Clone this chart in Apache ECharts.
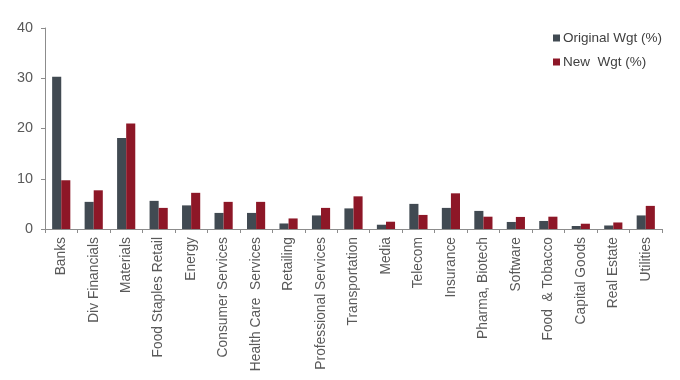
<!DOCTYPE html>
<html>
<head>
<meta charset="utf-8">
<script src="https://cdn.jsdelivr.net/npm/echarts@6/dist/echarts.min.js"></script>
<style>html,body{margin:0;padding:0;background:#fff;}#c{width:680px;height:380px;}</style>
</head>
<body>
<div id="c"></div>
<script>
const categories = ["Banks","Div Financials","Materials","Food Staples Retail","Energy","Consumer Services","Health Care  Services","Retailing","Professional Services","Transportation","Media","Telecom","Insurance","Pharma, Biotech","Software","Food  & Tobacco","Capital Goods","Real Estate","Utilities"];
const originalWgt = [30.3,5.4,18.1,5.6,4.7,3.2,3.2,1.1,2.7,4.1,0.85,5.0,4.2,3.6,1.4,1.6,0.6,0.7,2.7];
const newWgt = [9.7,7.7,21.0,4.2,7.2,5.4,5.4,2.1,4.2,6.5,1.45,2.8,7.1,2.45,2.4,2.45,1.05,1.3,4.6];
const yTicks = {min:0,max:40,interval:10};

const chart = echarts.init(document.getElementById('c'));
const font = 'Liberation Sans, Arial, sans-serif';
chart.setOption({
  animation:false,
  grid:{left:45,right:18,top:28,bottom:151},
  legend:{
    orient:'vertical', left:548, top:26, itemWidth:7, itemHeight:7, itemGap:10,
    icon:'rect',
    textStyle:{fontFamily:font,fontSize:13.5,color:'#404040',padding:[0,0,0,-2]},
    data:['Original Wgt (%)','New  Wgt (%)']
  },
  xAxis:{
    type:'category', data:categories,
    axisLine:{lineStyle:{color:'#8c8c8c'}},
    axisTick:{show:true,length:4,alignWithLabel:false,lineStyle:{color:'#8c8c8c'}},
    axisLabel:{rotate:90,interval:0,margin:8,fontFamily:font,fontSize:13.8,color:'#595959'}
  },
  yAxis:{
    type:'value', min:yTicks.min, max:yTicks.max, interval:yTicks.interval,
    splitLine:{show:false},
    axisLine:{show:true,lineStyle:{color:'#8c8c8c'}},
    axisTick:{show:true,length:4,lineStyle:{color:'#8c8c8c'}},
    axisLabel:{margin:12,fontFamily:font,fontSize:14.4,color:'#595959'}
  },
  series:[
    {name:'Original Wgt (%)',type:'bar',data:originalWgt,barGap:'0%',barCategoryGap:'44%',itemStyle:{color:'#414a52'}},
    {name:'New  Wgt (%)',type:'bar',data:newWgt,barGap:'0%',barCategoryGap:'44%',itemStyle:{color:'#8d1727'}}
  ]
});
</script>
</body>
</html>
